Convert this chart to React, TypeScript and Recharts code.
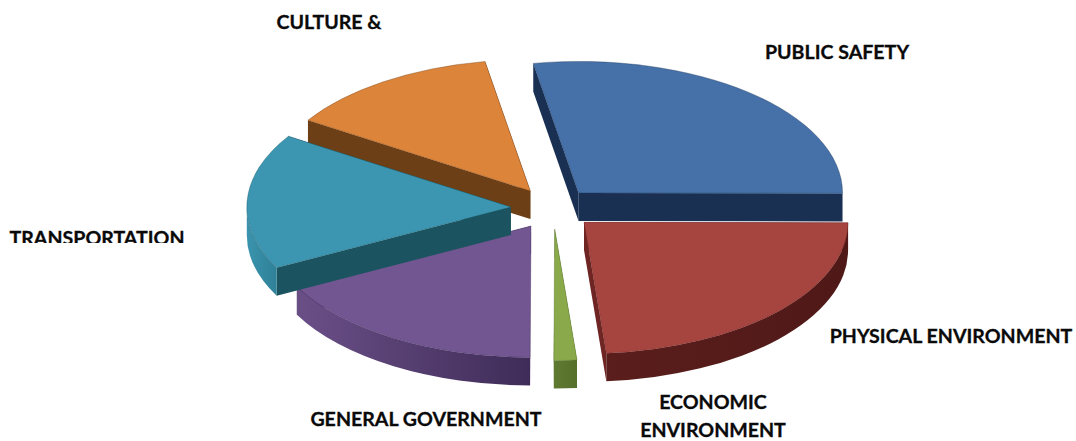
import React from "react";
import { PieChart, Pie, Cell } from "recharts";

// Budget share by function, in percent. Listed back-to-front so the
// left-hand wedges paint over the walls of their neighbours.
const categories = [
  "CULTURE & RECREATION",
  "PUBLIC SAFETY",
  "PHYSICAL ENVIRONMENT",
  "ECONOMIC ENVIRONMENT",
  "GENERAL GOVERNMENT",
  "TRANSPORTATION",
];
const shares = [13.2, 27.8, 23.6, 1.4, 17.3, 16.7];

const faceColors = ["#dc843a", "#4571a8", "#a6443f", "#8aa94b", "#725691", "#3c96b1"];
const cutColors = ["#6d3f16", "#1a3053", "#6e2523", "#566f2b", "#43305d", "#1c5360"];
const rimTopColors = ["#6d3f16", "#1a3053", "#5a1e1c", "#5f7a30", "#6a4f87", "#3a93ad"];
const rimBottomColors = ["#6d3f16", "#1a3053", "#4f1918", "#566f2b", "#3f2c58", "#2f8198"];

// How far each wedge is pulled out, as a fraction of the radius.
const wedgeExplode = [0.155, 0.15, 0.16, 0.16, 0.16, 0.16];

// Each caption is a list of drawn lines plus its centre and baselines.
const captionLines = [["CULTURE &"], ["PUBLIC SAFETY"], ["PHYSICAL ENVIRONMENT"], ["ECONOMIC", "ENVIRONMENT"], ["GENERAL GOVERNMENT"], ["TRANSPORTATION"]];
const captionX = [329, 837, 951, 713, 426, 97];
const captionY = [[29], [59], [343], [409, 437], [426], [245]];
const captionClipBottom = [null, null, null, null, null, 243];

const WIDTH = 1076;
const HEIGHT = 441;
const CENTER_X = 553;
const CENTER_Y = 208;
const RADIUS = 264;
const TILT = 131.5 / 264;
const DEPTH = 28;
const FIRST_ANGLE = 147.4;

const rad = (deg: number) => (deg * Math.PI) / 180;

function Wedge3D(props: any) {
  const { cx, cy, outerRadius, startAngle, endAngle, fill, payload } = props;
  const i = categories.indexOf(payload.name);
  const hi = Math.max(startAngle, endAngle);
  const lo = Math.min(startAngle, endAngle);
  const mid = (hi + lo) / 2;
  const rx = outerRadius;
  const ry = outerRadius * TILT;
  const ax = cx + rx * wedgeExplode[i] * Math.cos(rad(mid));
  const ay = cy - ry * wedgeExplode[i] * Math.sin(rad(mid));
  const px = (deg: number) => ax + rx * Math.cos(rad(deg));
  const py = (deg: number, drop = 0) => ay - ry * Math.sin(rad(deg)) + drop;
  const large = hi - lo > 180 ? 1 : 0;

  const cutPath = (deg: number) =>
    `M${ax},${ay}L${px(deg)},${py(deg)}L${px(deg)},${py(deg, DEPTH)}L${ax},${ay + DEPTH}Z`;

  // The curved wall only shows where the rim lies on the near half of the ellipse.
  const rims: string[] = [];
  for (const k of [-1, 0, 1]) {
    const s = Math.max(lo, -180 + 360 * k);
    const e = Math.min(hi, 360 * k);
    if (s < e) {
      rims.push(
        `M${px(e)},${py(e)}A${rx},${ry} 0 0 1 ${px(s)},${py(s)}` +
          `L${px(s)},${py(s, DEPTH)}A${rx},${ry} 0 0 0 ${px(e)},${py(e, DEPTH)}Z`
      );
    }
  }
  const gradientId = `rim-${i}`;

  return (
    <g>
      <defs>
        <linearGradient id={gradientId} x1="0" y1="0" x2="1" y2="0">
          <stop offset="0" stopColor={rimTopColors[i]} />
          <stop offset="1" stopColor={rimBottomColors[i]} />
        </linearGradient>
      </defs>
      <path d={cutPath(hi)} fill={cutColors[i]} />
      <path d={cutPath(lo)} fill={cutColors[i]} />
      {rims.map((d) => (
        <path key={d} d={d} fill={`url(#${gradientId})`} />
      ))}
      <path
        d={`M${ax},${ay}L${px(hi)},${py(hi)}A${rx},${ry} 0 ${large} 1 ${px(lo)},${py(lo)}Z`}
        fill={fill}
        stroke={cutColors[i]}
        strokeOpacity={0.45}
        strokeWidth={0.8}
        strokeLinejoin="round"
      />
    </g>
  );
}

function Caption(props: any) {
  const i = props.index;
  const bottom = captionClipBottom[i];
  const clipId = `caption-clip-${i}`;
  return (
    <g>
      {bottom !== null && (
        <clipPath id={clipId}>
          <rect x={0} y={0} width={WIDTH} height={bottom} />
        </clipPath>
      )}
      <text
        textAnchor="middle"
        fontFamily="Lato, sans-serif"
        fontWeight={700}
        fontSize={19.6}
        fill="#0a0a0a"
        stroke="#0a0a0a"
        strokeWidth={0.3}
        clipPath={bottom !== null ? `url(#${clipId})` : undefined}
      >
        {captionLines[i].map((line, n) => (
          <tspan key={line} x={captionX[i]} y={captionY[i][n]}>
            {line}
          </tspan>
        ))}
      </text>
    </g>
  );
}

const rows = categories.map((name, i) => ({ name, value: shares[i] }));

export default function App() {
  return (
    <div style={{ position: "absolute", left: 0, top: 0, width: WIDTH, height: HEIGHT, background: "#fff" }}>
      <PieChart width={WIDTH} height={HEIGHT} margin={{ top: 0, right: 0, bottom: 0, left: 0 }}>
        <Pie
          data={rows}
          dataKey="value"
          nameKey="name"
          cx={CENTER_X}
          cy={CENTER_Y}
          innerRadius={0}
          outerRadius={RADIUS}
          startAngle={FIRST_ANGLE}
          endAngle={FIRST_ANGLE - 360}
          paddingAngle={0}
          isAnimationActive={false}
          shape={Wedge3D}
          label={Caption}
          labelLine={false}
        >
          {rows.map((row, i) => (
            <Cell key={row.name} fill={faceColors[i]} />
          ))}
        </Pie>
      </PieChart>
    </div>
  );
}
